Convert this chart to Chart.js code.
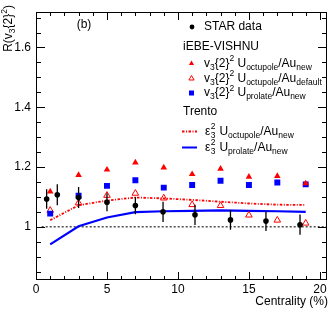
<!DOCTYPE html>
<html>
<head>
<meta charset="utf-8">
<script src="https://cdn.jsdelivr.net/npm/chart.js@4.4.0/dist/chart.umd.min.js"></script>
<style>
html, body { margin: 0; padding: 0; background: #fff; }
canvas { display: block; }
</style>
</head>
<body>
<canvas id="chart" width="333" height="323"></canvas>
<script>
// STAR data
const starCent = [0.75, 1.5, 3.0, 5.0, 7.0, 8.95, 11.2, 13.7, 16.2, 18.6];
const starR    = [1.093, 1.107, 1.098, 1.082, 1.071, 1.050, 1.040, 1.023, 1.019, 1.007];
const starErr  = [0.033, 0.035, 0.035, 0.030, 0.029, 0.034, 0.034, 0.033, 0.033, 0.034];

// iEBE-VISHNU + Trento
const modelCent = [1, 3, 5, 7, 9, 11, 13, 15, 17, 19];
const octNew    = [1.118, 1.173, 1.191, 1.215, 1.198, 1.176, 1.194, 1.167, 1.170, 1.145];
const octDef    = [1.055, 1.080, 1.105, 1.112, 1.096, 1.074, 1.071, 1.039, 1.022, 1.012];
const proNew    = [1.044, 1.104, 1.137, 1.156, 1.131, 1.140, 1.154, 1.140, 1.148, 1.142];
const trOct     = [1.022, 1.072, 1.088, 1.098, 1.095, 1.090, 1.084, 1.078, 1.074, 1.073];
const trPro     = [0.941, 1.002, 1.031, 1.049, 1.052, 1.053, 1.055, 1.053, 1.052, 1.050];

const refX = [0.4, 20.5];
const refY = [1, 1];

const xTickLabels = [0, 5, 10, 15, 20];
const yTickLabels = [1, 1.2, 1.4, 1.6];

const FONT = '"Liberation Sans", Arial, Helvetica, sans-serif';
const RED = 'rgb(255,0,0)', BLUE = 'rgb(0,0,255)';
const DASHDOT = [2.5, 1.5, 1, 1.5];

const pts = (xs, ys) => xs.map((x, i) => ({ x: x, y: ys[i] }));

// text with sub / superscripts; kind '' normal, 'b' sub, 'p' sup, 's' stacked [sup, sub]
function rich(ctx, x, y, parts, draw) {
    const big = 12, small = 8.5;
    let cx = x;
    ctx.textBaseline = 'middle';
    ctx.textAlign = 'left';
    parts.forEach(p => {
        const kind = p[p.length - 1];
        if (kind === 's') {
            ctx.font = small + 'px ' + FONT;
            const w = Math.max(ctx.measureText(p[0]).width, ctx.measureText(p[1]).width);
            if (draw) {
                ctx.fillText(p[0], cx + 0.5, y - 4.5);
                ctx.fillText(p[1], cx + 0.5, y + 4);
            }
            cx += w + 1;
        } else {
            const sz = kind === '' ? big : small;
            ctx.font = sz + 'px ' + FONT;
            const dy = kind === 'b' ? 4 : kind === 'p' ? -4.5 : 0;
            if (draw) ctx.fillText(p[0], cx, y + dy);
            cx += ctx.measureText(p[0]).width;
        }
    });
    return cx - x;
}

const errorBars = {
    id: 'errorBars',
    afterDatasetsDraw(chart) {
        const ctx = chart.ctx, x = chart.scales.x, y = chart.scales.y;
        ctx.save();
        ctx.strokeStyle = '#000';
        ctx.lineWidth = 1.3;
        ctx.setLineDash([]);
        ctx.beginPath();
        starCent.forEach((c, i) => {
            const px = x.getPixelForValue(c);
            ctx.moveTo(px, y.getPixelForValue(starR[i] - starErr[i]));
            ctx.lineTo(px, y.getPixelForValue(starR[i] + starErr[i]));
        });
        ctx.stroke();
        ctx.restore();
    }
};

const frameAndText = {
    id: 'frameAndText',
    afterDraw(chart) {
        const ctx = chart.ctx, a = chart.chartArea, x = chart.scales.x, y = chart.scales.y;
        ctx.save();
        ctx.setTransform(1, 0, 0, 1, 0, 0);
        ctx.setLineDash([]);
        ctx.globalAlpha = 1;
        ctx.fillStyle = '#000';
        const L = Math.round(a.left), R = Math.round(a.right), T = Math.round(a.top), B = Math.round(a.bottom);
        // frame
        ctx.fillRect(L, T, R - L, 1);
        ctx.fillRect(L, B - 1, R - L, 1);
        ctx.fillRect(L, T, 1, B - T);
        ctx.fillRect(R - 1, T, 1, B - T);
        // ticks (inward, mirrored)
        x.ticks.forEach(t => {
            const v = t.value;
            if (Math.abs(v - Math.round(v)) > 1e-6) return;
            const px = Math.round(x.getPixelForValue(v));
            const len = Math.round(v) % 5 === 0 ? 8 : 4;
            ctx.fillRect(px, B - len, 1, len);
            ctx.fillRect(px, T, 1, len);
        });
        y.ticks.forEach(t => {
            const v = t.value;
            if (Math.abs(v * 20 - Math.round(v * 20)) > 1e-6) return;
            const py = Math.round(y.getPixelForValue(v));
            const len = Math.abs(v * 5 - Math.round(v * 5)) < 1e-6 ? 9 : 5;
            ctx.fillRect(L, py, len, 1);
            ctx.fillRect(R - len, py, len, 1);
        });

        // panel label
        ctx.font = '12px ' + FONT;
        ctx.textAlign = 'center';
        ctx.textBaseline = 'middle';
        ctx.fillText('(b)', 84, 25);

        // axis titles
        ctx.textAlign = 'right';
        ctx.fillText('Centrality (%)', 328, 302);
        const yTitle = [['R(v', ''], ['3', 'b'], ['{2}', ''], ['2', 'p'], [')', '']];
        const w = rich(ctx, 0, 0, yTitle, false);
        ctx.save();
        ctx.translate(9, 5 + w);
        ctx.rotate(-Math.PI / 2);
        rich(ctx, 0, 0, yTitle, true);
        ctx.restore();

        // legend
        const tx = 204;
        ctx.beginPath(); ctx.arc(192, 27, 2.4, 0, Math.PI * 2); ctx.fill();
        rich(ctx, tx, 27, [['STAR data', '']], true);
        rich(ctx, 183, 46.5, [['iEBE-VISHNU', '']], true);

        const tri = (cx, cy, r) => {
            ctx.beginPath();
            ctx.moveTo(cx, cy - r);
            ctx.lineTo(cx + r * 0.866, cy + r * 0.5);
            ctx.lineTo(cx - r * 0.866, cy + r * 0.5);
            ctx.closePath();
        };
        ctx.fillStyle = RED;
        tri(191.5, 63.5, 3); ctx.fill();
        ctx.strokeStyle = RED; ctx.lineWidth = 1;
        tri(191.5, 78.5, 3); ctx.stroke();
        ctx.fillStyle = BLUE;
        ctx.fillRect(189, 90.5, 5, 5);

        ctx.fillStyle = '#000';
        const v3 = [['v', ''], ['3', 'b'], ['{2}', ''], ['2', 'p'], [' U', '']];
        rich(ctx, tx, 63.5, v3.concat([['octupole', 'b'], ['/Au', ''], ['new', 'b']]), true);
        rich(ctx, tx, 78.5, v3.concat([['octupole', 'b'], ['/Au', ''], ['default', 'b']]), true);
        rich(ctx, tx, 93, v3.concat([['prolate', 'b'], ['/Au', ''], ['new', 'b']]), true);
        rich(ctx, 183, 111.5, [['Trento', '']], true);

        ctx.lineWidth = 1.8;
        ctx.strokeStyle = RED;
        ctx.setLineDash(DASHDOT);
        ctx.beginPath(); ctx.moveTo(182, 131.5); ctx.lineTo(197, 131.5); ctx.stroke();
        ctx.setLineDash([]);
        ctx.lineWidth = 2;
        ctx.strokeStyle = BLUE;
        ctx.beginPath(); ctx.moveTo(182, 147.5); ctx.lineTo(197, 147.5); ctx.stroke();

        const eps = [['\u03b5', ''], ['2', '3', 's'], [' U', '']];
        rich(ctx, 205, 131.5, eps.concat([['octupole', 'b'], ['/Au', ''], ['new', 'b']]), true);
        rich(ctx, 205, 147.5, eps.concat([['prolate', 'b'], ['/Au', ''], ['new', 'b']]), true);
        ctx.restore();
    }
};

new Chart(document.getElementById('chart'), {
    type: 'scatter',
    data: {
        datasets: [
            { label: 'STAR data', data: pts(starCent, starR), order: 0,
              pointStyle: 'circle', pointRadius: 2.8, backgroundColor: '#000', borderColor: '#000', borderWidth: 0 },
            { label: 'oct new', data: pts(modelCent, octNew), order: 1,
              pointStyle: 'triangle', pointRadius: 3.8, backgroundColor: RED, borderColor: RED, borderWidth: 0 },
            { label: 'pro new', data: pts(modelCent, proNew), order: 2,
              pointStyle: 'rect', pointRadius: 4.2, backgroundColor: BLUE, borderColor: BLUE, borderWidth: 0 },
            { label: 'oct default', data: pts(modelCent, octDef), order: 3,
              pointStyle: 'triangle', pointRadius: 3.8, backgroundColor: 'rgba(0,0,0,0)', borderColor: RED, borderWidth: 1 },
            { label: 'trento oct', data: pts(modelCent, trOct), order: 4, showLine: true,
              pointRadius: 0, borderColor: RED, borderWidth: 1.8, borderDash: DASHDOT, tension: 0 },
            { label: 'trento pro', data: pts(modelCent, trPro), order: 5, showLine: true,
              pointRadius: 0, borderColor: BLUE, borderWidth: 2.2, tension: 0 },
            { label: 'ref', data: pts(refX, refY), order: 6, showLine: true,
              pointRadius: 0, borderColor: '#333', borderWidth: 1.3, borderDash: [2, 2] }
        ]
    },
    options: {
        responsive: false,
        animation: false,
        events: [],
        layout: { padding: { top: 7, right: 6, left: 0, bottom: 0 } },
        plugins: { legend: { display: false }, tooltip: { enabled: false } },
        scales: {
            x: {
                type: 'linear', min: 0, max: 20.5,
                grid: { display: false, drawTicks: false }, border: { display: false },
                afterFit: s => { s.height = 43; },
                ticks: {
                    stepSize: 1, maxTicksLimit: 100, autoSkip: false, maxRotation: 0, padding: 2,
                    includeBounds: false,
                    color: '#000', font: { family: FONT, size: 12 },
                    callback: v => xTickLabels.includes(Math.round(v * 1000) / 1000) ? String(Math.round(v)) : ''
                }
            },
            y: {
                type: 'linear', min: 0.822, max: 1.718,
                grid: { display: false, drawTicks: false }, border: { display: false },
                afterFit: s => { s.width = 36; },
                ticks: {
                    stepSize: 0.05, maxTicksLimit: 100, autoSkip: false, padding: 5,
                    includeBounds: false,
                    color: '#000', font: { family: FONT, size: 12 },
                    callback: v => {
                        const r = Math.round(v * 1000) / 1000;
                        if (!yTickLabels.includes(r)) return '';
                        return r === 1 ? '1' : r.toFixed(1);
                    }
                }
            }
        }
    },
    plugins: [errorBars, frameAndText]
});
</script>
</body>
</html>
